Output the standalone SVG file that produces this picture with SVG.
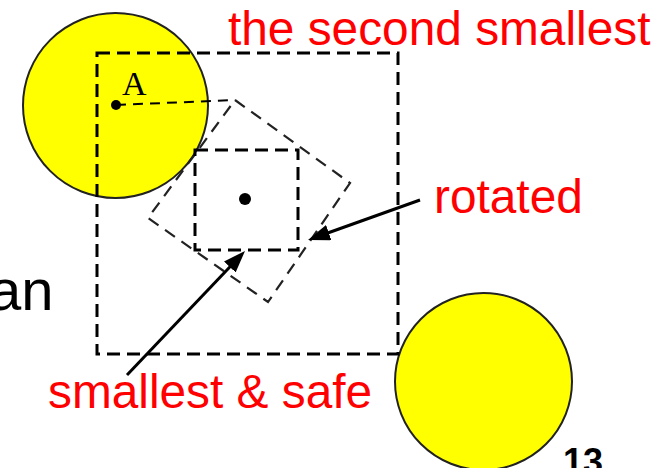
<svg xmlns="http://www.w3.org/2000/svg" width="660" height="468" viewBox="0 0 660 468">
<defs>
<style>
.disk{fill:#ffff00;stroke:#222;stroke-width:2}
.box{fill:none;stroke:#000;stroke-width:3;stroke-dasharray:13 7}
.rot{fill:none;stroke:#222;stroke-width:2.2;stroke-dasharray:12 8}
.aux{fill:none;stroke:#000;stroke-width:2;stroke-dasharray:10 7}
.arrow{fill:none;stroke:#000;stroke-width:3;marker-end:url(#head)}
.lbl{font-family:"Liberation Sans",Arial,sans-serif;font-size:47.8px;fill:#ff0000}
.blk{font-family:"Liberation Sans",Arial,sans-serif;fill:#000}
</style>
<marker id="head" markerUnits="userSpaceOnUse" markerWidth="22" markerHeight="16" refX="10" refY="8" orient="auto">
<path d="M0,0 L22,8 L0,16 z" fill="#000"/>
</marker>
</defs>
<rect width="660" height="468" fill="#fff"/>
<text class="blk" x="-11" y="310" font-size="58">an</text>
<g id="circleA"><circle class="disk" cx="115.5" cy="105.5" r="92.5"/></g>
<g id="circleB"><circle class="disk" cx="483.5" cy="381.5" r="88.5"/></g>
<g id="bigBox"><rect class="box" x="97" y="53" width="301" height="301"/></g>
<g id="rotatedBox"><polygon class="rot" points="235,100 350,183 268,302 148,218"/></g>
<g id="smallBox"><rect class="box" x="195" y="150" width="103" height="100"/></g>
<g id="pointA">
<line class="aux" x1="116" y1="105" x2="235" y2="100"/>
<circle cx="116" cy="105" r="5" fill="#000"/>
<text x="122" y="95" font-family="'Liberation Serif','DejaVu Serif',serif" font-size="34" fill="#000">A</text>
</g>
<g id="center"><circle cx="245" cy="199" r="6" fill="#000"/></g>
<g id="connectors">
<line class="arrow" x1="420" y1="200" x2="319.3" y2="236"/>
<line class="arrow" x1="127" y1="375" x2="236.7" y2="259.7"/>
</g>
<g id="labels">
<text class="lbl" x="228" y="45">the second smallest</text>
<text class="lbl" x="434" y="213">rotated</text>
<text class="lbl" x="48" y="408">smallest &amp; safe</text>
<text class="blk" x="563" y="474" font-size="36" font-weight="bold">13</text>
</g>
</svg>
